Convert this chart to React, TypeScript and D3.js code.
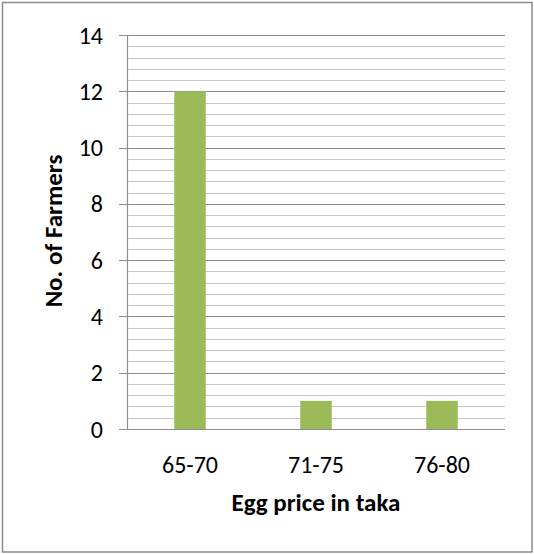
import React from "react";
import * as d3 from "d3";

const categories = ["65-70", "71-75", "76-80"];
const farmers = [12, 1, 1];
const yTicks = [0, 2, 4, 6, 8, 10, 12, 14];
const minorStep = 0.4;
const yTitle = "No. of Farmers";
const xTitle = "Egg price in taka";

const W = 534;
const H = 554;
const plot = { left: 127, right: 505, top: 35, bottom: 429 };
const FONT = "Carlito, Lato, 'Open Sans', sans-serif";
const FS = 24;
const FT = 25;

export default function App() {
  const x = d3
    .scaleBand<string>()
    .domain(categories)
    .range([plot.left, plot.right])
    .paddingInner(0)
    .paddingOuter(0);
  const y = d3.scaleLinear().domain([0, 14]).range([plot.bottom, plot.top]);
  const minor = d3.range(0, 14 + 1e-9, minorStep).filter((v) => Math.abs(v / 2 - Math.round(v / 2)) > 1e-6);
  const barW = x.bandwidth() * 0.25;

  return (
    <svg width={W} height={H} style={{ position: "absolute", left: 0, top: 0 }}>
      <rect x={0} y={0} width={W} height={H} fill="#fff" />
      <rect x={2.5} y={2.5} width={529.5} height={549.5} fill="#fff" stroke="#8c8c8c" strokeWidth={1.5} />
      {minor.map((v) => (
        <line key={"m" + v} x1={plot.left} x2={plot.right} y1={Math.round(y(v)) + 0.5} y2={Math.round(y(v)) + 0.5} stroke="#c6c6c6" strokeWidth={1.2} />
      ))}
      {yTicks.map((v) => (
        <line key={"g" + v} x1={plot.left - 8} x2={plot.right} y1={Math.round(y(v)) + 0.5} y2={Math.round(y(v)) + 0.5} stroke="#8e8e8e" strokeWidth={1.2} />
      ))}
      <line x1={plot.left + 0.5} x2={plot.left + 0.5} y1={plot.top} y2={plot.bottom} stroke="#8e8e8e" strokeWidth={1.2} />
      {categories.map((c, i) => (
        <rect
          key={c}
          x={(x(c) as number) + x.bandwidth() / 2 - barW / 2}
          y={y(farmers[i])}
          width={barW}
          height={y(0) - y(farmers[i])}
          fill="#9bbb59"
        />
      ))}
      {yTicks.map((v) => (
        <text key={"t" + v} x={103} y={y(v)} dy="0.36em" textAnchor="end" fontFamily={FONT} fontSize={FS} fill="#000">
          {v}
        </text>
      ))}
      {categories.map((c) => (
        <text key={"x" + c} x={(x(c) as number) + x.bandwidth() / 2} y={473} textAnchor="middle" fontFamily={FONT} fontSize={FS} fill="#000">
          {c}
        </text>
      ))}
      <text x={316} y={511} textAnchor="middle" fontFamily={FONT} fontSize={FT} fontWeight="bold" fill="#000">
        {xTitle}
      </text>
      <text
        transform={`translate(62, 231) rotate(-90)`}
        textAnchor="middle"
        fontFamily={FONT}
        fontSize={FT}
        fontWeight="bold"
        fill="#000"
      >
        {yTitle}
      </text>
    </svg>
  );
}
